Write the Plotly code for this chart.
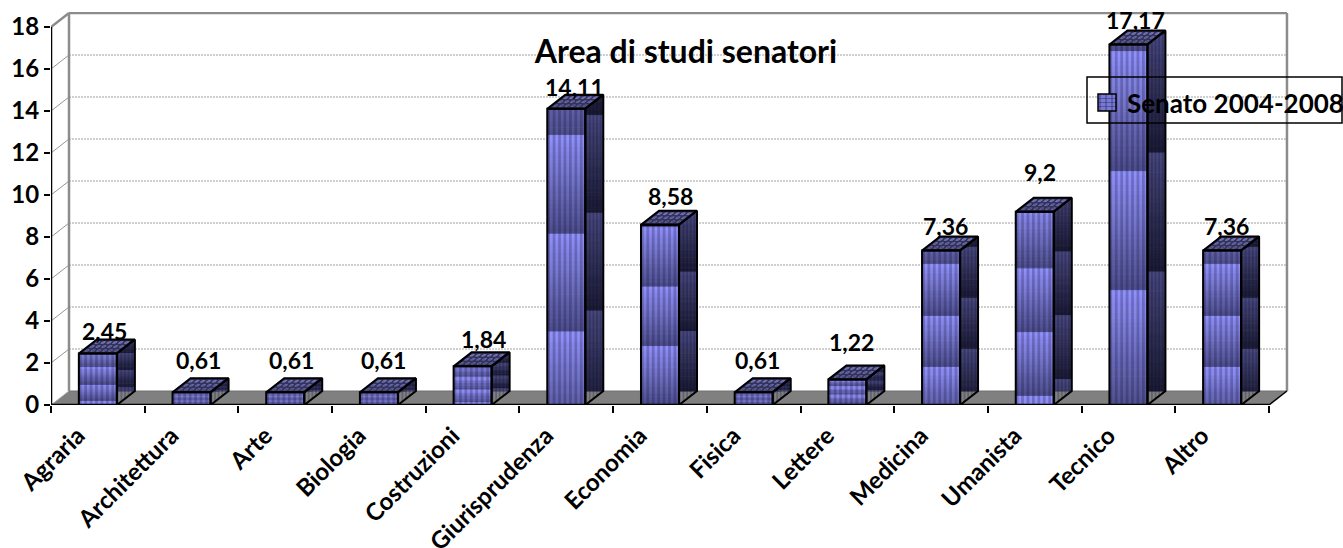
import plotly.graph_objects as go

# Share of senators per field of study, Senato 2004-2008
categories = ["Agraria", "Architettura", "Arte", "Biologia", "Costruzioni", "Giurisprudenza",
              "Economia", "Fisica", "Lettere", "Medicina", "Umanista", "Tecnico", "Altro"]
values = [2.45, 0.61, 0.61, 0.61, 1.84, 14.11, 8.58, 0.61, 1.22, 7.36, 9.2, 17.17, 7.36]
y_ticks = [0, 2, 4, 6, 8, 10, 12, 14, 16, 18]
series_name = "Senato 2004-2008"
chart_title = "Area di studi senatori"

# Offsets of the value labels from the bar top, in pixels
label_dx = [7, 7, 6, 5, 11, 8, 11, 4, 4, 4, 5, 7, 4]
label_lift = [23, 32, 32, 32, 27, 22, 29, 32, 37, 24, 40, 24, 24]

# Where the shading restarts on each bar, as a fraction of its height from the top
front_first = [.27, .28, .28, .28, .28, .09, .01, .28, .28, .09, .29, .02, .09]
side_first = [.27, .28, .28, .28, .28, .07, .01, .28, .28, .07, .28, .01, .07]
BREAK_STEP = 0.33

# Scale of the plot area
PX_X, PX_Y = 93.69, 21.0
FONT = "Lato"
DX, DY = 18 / PX_X, 14 / PX_Y      # depth of the 3D box in data units
BAR_W = 38 / PX_X
WIDTH, HEIGHT = 1343, 548
M_L, M_R, M_T, M_B = 51, 53, 12, 143
X_MAX = (WIDTH - M_L - M_R) / PX_X
Y_MAX = (HEIGHT - M_T - M_B) / PX_Y
PLOT_W = WIDTH - M_L - M_R
PLOT_H = HEIGHT - M_T - M_B


def px_x(px):
    return (px - M_L) / PLOT_W


def px_y(px):
    return (HEIGHT - M_B - px) / PLOT_H


def mix(a, b, t):
    return tuple(a[i] + (b[i] - a[i]) * t for i in range(3))


def key(c):
    return "rgb(%d,%d,%d)" % tuple(round(v / 3) * 3 for v in c)


# Bars are painted slice by slice, from the top down, so neighbouring slices overlap cleanly
slices_x, slices_y, slices_c = [], [], []
cells = {}


def poly(color, xs, ys):
    slices_x.append(xs + [xs[0]])
    slices_y.append(ys + [ys[0]])
    slices_c.append(color)


def cell(color, xs, ys):
    bx, by = cells.setdefault(color, ([], []))
    bx.extend(xs + [xs[0], None])
    by.extend(ys + [ys[0], None])


def band_slices(first, top, bottom):
    """Cut the span top..bottom into slices with a sawtooth shade value."""
    h = top - bottom
    px = h * PX_Y
    edges = [0.0, 1.0]
    k = 0
    while first + k * BREAK_STEP < 1:
        edges.append(first + k * BREAK_STEP)
        k += 1
    edges = sorted(edges)
    out = []
    for a, b in zip(edges[:-1], edges[1:]):
        n = max(1, min(24, int((b - a) * px / 2)))
        for j in range(n):
            fa = a + (b - a) * j / n
            fb = a + (b - a) * (j + 1) / n
            mid = (fa + fb) / 2
            phase = ((mid - first) / BREAK_STEP) % 1
            out.append((top - fa * h, top - fb * h, 1 - phase))
    return out


FRONT_LIGHT, FRONT_DARK = (146, 146, 252), (78, 78, 138)
SIDE_LIGHT, SIDE_DARK = (72, 72, 124), (26, 26, 48)
TOP_LIGHT, TOP_DARK = (118, 118, 204), (52, 52, 94)

outline_x, outline_y = [], []
stripe_x, stripe_y = [], []


def outline(xs, ys):
    outline_x.extend(xs + [xs[0], None])
    outline_y.extend(ys + [ys[0], None])


def stripe(xs, ys):
    stripe_x.extend(xs + [xs[0], None])
    stripe_y.extend(ys + [ys[0], None])


for i, v in enumerate(values):
    x0 = i + 0.5 - BAR_W / 2
    x1 = x0 + BAR_W

    # front face: repeated vertical shade with dark stripes laid over it
    for ya, yb, t in band_slices(front_first[i], v, 0):
        poly(key(mix(FRONT_DARK, FRONT_LIGHT, t)), [x0, x1, x1, x0], [ya, ya, yb, yb])
    cols = 14
    for c in range(0, cols, 2):
        xa = x0 + BAR_W * c / cols
        xb = x0 + BAR_W * (c + 1) / cols
        stripe([xa, xb, xb, xa], [0, 0, v, v])

    # side face: same shade bands kept level, clipped to the parallelogram
    clip = lambda y, f: min(max(y, DY * f), v + DY * f)
    for ya, yb, t in band_slices(side_first[i], v + DY, DY):
        color = key(mix(SIDE_DARK, SIDE_LIGHT, t))
        xs, top_edge, bottom_edge = [], [], []
        for f in (0, 0.5, 1):
            xs.append(x1 + DX * f)
            top_edge.append(clip(ya, f))
            bottom_edge.append(clip(yb, f))
        poly(color, xs + xs[::-1], top_edge + bottom_edge[::-1])
    cols = 10
    for c in range(0, cols, 2):
        fa, fb = c / cols, (c + 1) / cols
        stripe([x1 + DX * fa, x1 + DX * fb, x1 + DX * fb, x1 + DX * fa],
               [DY * fa, DY * fb, v + DY * fb, v + DY * fa])

    # top face: small lit cells between darker grid lines
    rows, cols = 7, 13
    for r in range(rows):
        for c in range(cols):
            lit = r % 2 == 1 and c % 2 == 1
            fr0, fr1 = r / rows, (r + 1) / rows
            fc0, fc1 = c / cols, (c + 1) / cols
            color = mix(TOP_DARK, TOP_LIGHT, 0.25 + 0.75 * fr0) if lit else TOP_DARK
            cell(key(color),
                 [x0 + BAR_W * fc0 + DX * fr0, x0 + BAR_W * fc1 + DX * fr0,
                  x0 + BAR_W * fc1 + DX * fr1, x0 + BAR_W * fc0 + DX * fr1],
                 [v + DY * fr0, v + DY * fr0, v + DY * fr1, v + DY * fr1])

    outline([x0, x1, x1, x0], [0, 0, v, v])
    outline([x1, x1 + DX, x1 + DX, x1], [0, DY, v + DY, v])
    outline([x0, x1, x1 + DX, x0 + DX], [v, v, v + DY, v + DY])

fig = go.Figure()
# same colour runs share one trace; a 1px line of that colour closes the seams between slices
groups = {}
for xs, ys, color in zip(slices_x, slices_y, slices_c):
    gx, gy = groups.setdefault(color, ([], []))
    gx.extend(xs + [None])
    gy.extend(ys + [None])
for color, (bx, by) in groups.items():
    fig.add_trace(go.Scatter(x=bx, y=by, mode="lines", fill="toself", fillcolor=color,
                             line=dict(color=color, width=1), hoverinfo="skip",
                             showlegend=False))
for color, (bx, by) in cells.items():
    fig.add_trace(go.Scatter(x=bx, y=by, mode="lines", fill="toself", fillcolor=color,
                             line=dict(color=color, width=0.3), hoverinfo="skip",
                             showlegend=False))
fig.add_trace(go.Scatter(x=stripe_x, y=stripe_y, mode="lines", fill="toself",
                         fillcolor="rgba(10,10,50,0.24)", line=dict(width=0), hoverinfo="skip",
                         showlegend=False))
fig.add_trace(go.Scatter(x=outline_x, y=outline_y, mode="lines",
                         line=dict(color="black", width=2), hoverinfo="skip", showlegend=False))

GRAY = "rgb(140,140,140)"
shapes = []


def line(x0, y0, x1, y1, color, width, dash="solid", layer="below"):
    shapes.append(dict(type="line", xref="x", yref="y", x0=x0, y0=y0, x1=x1, y1=y1,
                       layer=layer, line=dict(color=color, width=width, dash=dash)))


def paper_rect(a, b, c, d, fill, border=None, width=0, layer="above"):
    shapes.append(dict(type="rect", xref="paper", yref="paper", layer=layer,
                       x0=px_x(a), x1=px_x(b), y0=px_y(d), y1=px_y(c), fillcolor=fill,
                       line=dict(color=border or "rgba(0,0,0,0)", width=width)))


# floor
shapes.append(dict(type="path", xref="x", yref="y", layer="below",
                   path=f"M0,0 L{DX},{DY} L{13 + DX},{DY} L13,0 Z",
                   fillcolor="rgb(128,128,128)", line=dict(width=0)))
# back wall, grid lines and the slanted lines on the side wall
for t in y_ticks[1:-1]:
    line(DX, t + DY, 13 + DX, t + DY, "rgb(160,160,160)", 1, "2px,1px")
    line(0, t, DX, t + DY, "rgb(150,150,150)", 1)
line(DX, DY, 13 + DX, DY, "rgb(110,110,110)", 1)
line(DX, y_ticks[-1] + DY, 13 + DX, y_ticks[-1] + DY, GRAY, 2.5)
line(0, y_ticks[-1], DX, y_ticks[-1] + DY, GRAY, 2.5)
line(DX, DY, DX, y_ticks[-1] + DY, GRAY, 2.5)
line(13 + DX, DY, 13 + DX, y_ticks[-1] + DY, GRAY, 2.5)
line(0, 0, DX, DY, "rgb(170,170,170)", 1)
line(13, 0, 13 + DX, DY, "black", 1.5)

# legend: white ground under the bars, frame, key and name above them
paper_rect(1087, 1342, 77, 123, "white", layer="below")
paper_rect(1087, 1342, 77, 123, "rgba(0,0,0,0)", "black", 1.5)
paper_rect(1098, 1116, 94, 111, "rgb(120,120,215)")
for k in range(3):
    paper_rect(1099 + 6 * k, 1101 + 6 * k, 94, 111, "rgba(10,10,50,0.25)")
for k in range(3):
    paper_rect(1098, 1116, 98 + 4 * k, 99 + 4 * k, "rgba(40,40,90,0.45)")
paper_rect(1098, 1116, 94, 111, "rgba(0,0,0,0)", "black", 1.5)

# axis lines stop at the last tick and the last category
line(0, 0, 0, y_ticks[-1], "black", 2.5, layer="above")
line(0, 0, 13, 0, "black", 2.5, layer="above")

annotations = [
    dict(x=i + 0.5, y=v, xref="x", yref="y", text=str(v).replace(".", ","), showarrow=False,
         xshift=label_dx[i], yshift=label_lift[i], xanchor="center", yanchor="middle",
         font=dict(family=FONT, size=23, color="black", weight=700))
    for i, v in enumerate(values)
]
annotations.append(dict(x=px_x(1125), y=px_y(103), xref="paper", yref="paper", text=series_name,
                        showarrow=False, xanchor="left", yanchor="middle",
                        font=dict(family=FONT, size=26, color="black", weight=700)))

fig.update_layout(
    width=WIDTH, height=HEIGHT, autosize=False,
    margin=dict(l=M_L, r=M_R, t=M_T, b=M_B, pad=0),
    paper_bgcolor="white", plot_bgcolor="white",
    title=dict(text=chart_title, x=686 / WIDTH, y=1 - 52 / HEIGHT, xanchor="center", yanchor="middle",
               font=dict(family=FONT, size=32, color="black", weight=700)),
    xaxis=dict(range=[0, X_MAX], tickmode="array", tickvals=[i + 0.5 for i in range(13)],
               ticktext=categories, tickangle=-45, ticks="", showgrid=False, zeroline=False,
               showline=False, ticklabelstandoff=11, ticklabelshift=-20, automargin=False,
               tickfont=dict(family=FONT, size=24, color="black", weight=700),
               minor=dict(tickmode="array", tickvals=list(range(14)), ticks="outside", ticklen=7,
                          tickwidth=2, tickcolor="black", showgrid=False)),
    yaxis=dict(range=[0, Y_MAX], tickmode="array", tickvals=y_ticks, ticks="outside", ticklen=6,
               tickwidth=2, tickcolor="black", showgrid=False, zeroline=False, showline=False,
               automargin=False,
               tickfont=dict(family=FONT, size=24, color="black", weight=700)),
    shapes=shapes,
    annotations=annotations,
    showlegend=False,
)

fig.write_html("out.html")
